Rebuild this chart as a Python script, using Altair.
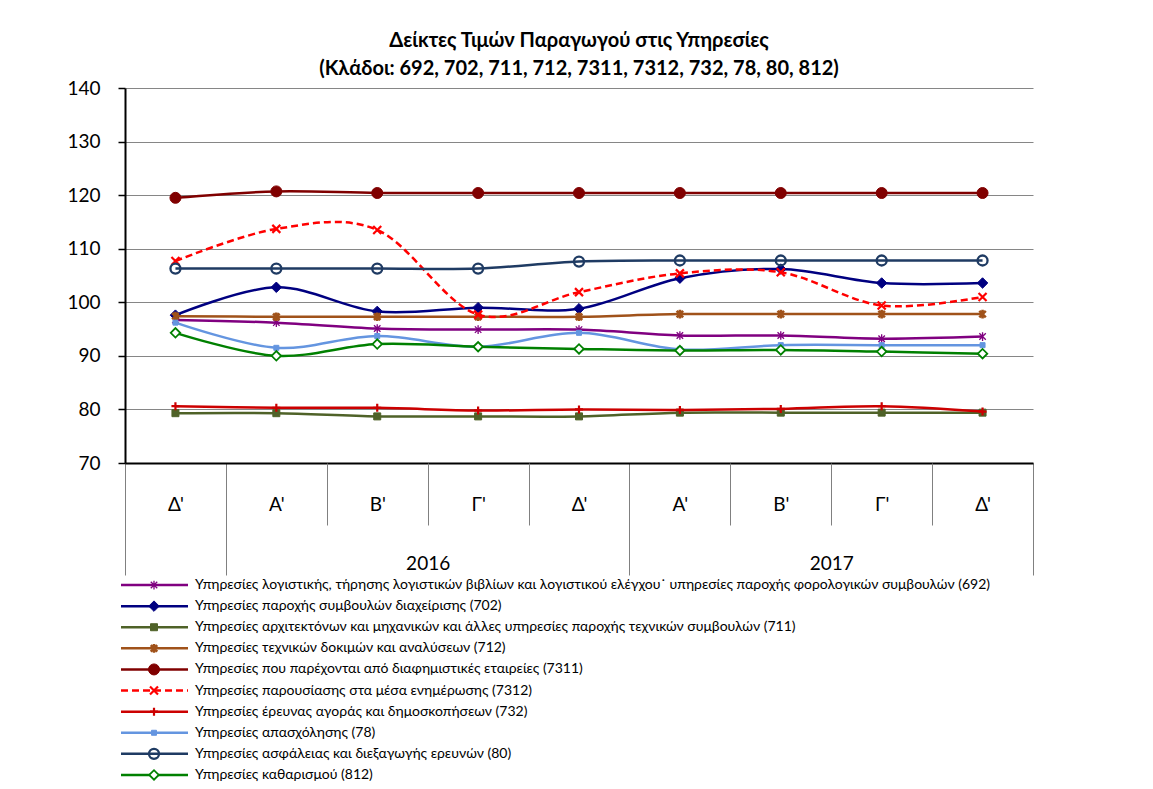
import json
import altair as alt
import pandas as pd

FONT = "Lato, Open Sans, sans-serif"

# ---------------- data ----------------
quarters = ["Δ'", "Α'", "Β'", "Γ'", "Δ'", "Α'", "Β'", "Γ'", "Δ'"]
quarter_years = ["2015", "2016", "2016", "2016", "2016", "2017", "2017", "2017", "2017"]
shown_years = ["2016", "2017"]

title_lines = [
    "Δείκτες Τιμών Παραγωγού στις Υπηρεσίες",
    "(Κλάδοι: 692, 702, 711, 712, 7311, 7312, 732, 78, 80, 812)",
]

y_ticks = [70, 80, 90, 100, 110, 120, 130, 140]

codes = ["692", "702", "711", "712", "7311", "7312", "732", "78", "80", "812"]
labels = [
    "Υπηρεσίες λογιστικής, τήρησης λογιστικών βιβλίων και λογιστικού ελέγχου˙ υπηρεσίες παροχής φορολογικών συμβουλών (692)",
    "Υπηρεσίες παροχής συμβουλών διαχείρισης (702)",
    "Υπηρεσίες αρχιτεκτόνων και μηχανικών και άλλες υπηρεσίες παροχής τεχνικών συμβουλών (711)",
    "Υπηρεσίες τεχνικών δοκιμών και αναλύσεων (712)",
    "Υπηρεσίες που παρέχονται από διαφημιστικές εταιρείες (7311)",
    "Υπηρεσίες παρουσίασης στα μέσα ενημέρωσης (7312)",
    "Υπηρεσίες έρευνας αγοράς και δημοσκοπήσεων (732)",
    "Υπηρεσίες απασχόλησης (78)",
    "Υπηρεσίες ασφάλειας και διεξαγωγής ερευνών (80)",
    "Υπηρεσίες καθαρισμού (812)",
]

v692 = [96.7, 96.2, 95.1, 94.9, 94.9, 93.8, 93.8, 93.2, 93.6]
v702 = [97.6, 102.8, 98.3, 99.0, 98.8, 104.5, 106.2, 103.6, 103.6]
v711 = [79.3, 79.3, 78.7, 78.7, 78.7, 79.4, 79.4, 79.4, 79.4]
v712 = [97.4, 97.3, 97.3, 97.3, 97.3, 97.8, 97.8, 97.8, 97.8]
v7311 = [119.5, 120.7, 120.4, 120.4, 120.4, 120.4, 120.4, 120.4, 120.4]
v7312 = [107.7, 113.7, 113.5, 97.7, 101.9, 105.4, 105.6, 99.4, 101.0]
v732 = [80.6, 80.3, 80.3, 79.8, 80.0, 79.9, 80.1, 80.6, 79.6]
v78 = [96.2, 91.5, 93.7, 91.7, 94.3, 91.2, 92.0, 92.0, 92.0]
v80 = [106.3, 106.3, 106.3, 106.3, 107.6, 107.8, 107.8, 107.8, 107.8]
v812 = [94.3, 90.0, 92.2, 91.7, 91.3, 91.0, 91.1, 90.8, 90.4]

series_values = [v692, v702, v711, v712, v7311, v7312, v732, v78, v80, v812]

# ---------------- styles ----------------
ASTER = "M-1,-1L1,1M-1,1L1,-1M0,-1.35L0,1.35"
XMARK = "M-1,-1L1,1M-1,1L1,-1"
PLUS = "M-1,0L1,0M0,-1L0,1"

colors = ["#800080", "#000080", "#4F6228", "#A0521A", "#800000",
          "#FF0000", "#CC0000", "#6495E0", "#1F3B63", "#008000"]
shapes = [ASTER, "diamond", "square", ASTER, "circle",
          XMARK, PLUS, "square", "circle", "diamond"]
msizes = [42, 110, 49, 42, 121, 64, 64, 25, 100, 90]
mfill = ["none", "same", "same", "none", "same",
         "none", "none", "same", "none", "#FFFFFF"]
mstroke_w = [1.3, 1, 1, 2.6, 1, 2.2, 2.2, 1, 2.3, 1.8]
dashes = [None, None, None, None, None, [7, 4], None, None, None, None]

# ---------------- tables ----------------
n = len(quarters)
rows = []
for code, vals in zip(codes, series_values):
    for i, v in enumerate(vals):
        rows.append({"code": code, "idx": i, "value": v})
df = pd.DataFrame(rows)

long_ticks = [-0.5] + [i - 0.5 for i in range(1, n) if quarter_years[i] != quarter_years[i - 1]] + [n - 0.5]
short_ticks = [i - 0.5 for i in range(1, n) if quarter_years[i] == quarter_years[i - 1]]
year_centers = []
for yr in shown_years:
    ids = [i for i, q in enumerate(quarter_years) if q == yr]
    year_centers.append(sum(ids) / len(ids))

x_scale = alt.Scale(domain=[-0.5, n - 0.5], nice=False, zero=False)
y_scale = alt.Scale(domain=[70, 140], nice=False, zero=False)

axis_long = alt.Axis(orient="bottom", values=long_ticks, labels=False, tickSize=112,
                     tickColor="#808080", tickWidth=1, domainColor="#000000",
                     domainWidth=2, grid=False, title=None)
axis_short = alt.Axis(orient="bottom", values=short_ticks, labels=False, tickSize=62,
                      tickColor="#808080", tickWidth=1, domain=False, grid=False, title=None)
axis_quarters = alt.Axis(orient="bottom", values=list(range(n)), ticks=False, domain=False,
                         labelExpr=json.dumps(quarters, ensure_ascii=False) + "[round(datum.value)]",
                         labelFontSize=19, labelFont=FONT, labelColor="#000000",
                         labelPadding=32, labelOverlap=False, labelFlush=False,
                         grid=False, title=None)
axis_years = alt.Axis(orient="bottom", values=year_centers, ticks=False, domain=False,
                      labelExpr=json.dumps(shown_years) + "[indexof(" + json.dumps(year_centers) + ", datum.value)]",
                      labelFontSize=19, labelFont=FONT, labelColor="#000000",
                      labelPadding=91, labelOverlap=False, labelFlush=False,
                      grid=False, title=None)
x_axes = [axis_long, axis_short, axis_quarters, axis_years]

y_axis = alt.Axis(values=y_ticks, grid=True, gridColor="#868686", gridWidth=1,
                  domainColor="#000000", domainWidth=2, tickColor="#000000",
                  tickSize=7, tickWidth=1.5, labelFontSize=19, labelFont=FONT,
                  labelColor="#000000", labelPadding=18, title=None)


def point_kwargs(k):
    kw = dict(shape=shapes[k], size=msizes[k], opacity=1, strokeWidth=mstroke_w[k])
    if mfill[k] == "same":
        kw.update(filled=True, fill=colors[k], stroke=colors[k])
    elif mfill[k] == "none":
        kw.update(filled=False, stroke=colors[k])
    else:
        kw.update(filled=True, fill=mfill[k], stroke=colors[k])
    return kw


def line_kwargs(k, width=2.5):
    kw = dict(color=colors[k], strokeWidth=width)
    if dashes[k] is not None:
        kw["strokeDash"] = dashes[k]
    return kw


layers = []
axis_i = 0
for k, code in enumerate(codes):
    base = alt.Chart(df).transform_filter(alt.datum.code == code)
    if axis_i < len(x_axes):
        xenc = alt.X("idx:Q", scale=x_scale, axis=x_axes[axis_i])
    else:
        xenc = alt.X("idx:Q", scale=x_scale, axis=None)
    axis_i += 1
    yenc = alt.Y("value:Q", scale=y_scale, axis=y_axis)
    line = base.mark_line(interpolate="cardinal", **line_kwargs(k)).encode(x=xenc, y=yenc)
    pts = base.mark_point(**point_kwargs(k)).encode(
        x=alt.X("idx:Q", scale=x_scale, axis=None),
        y=alt.Y("value:Q", scale=y_scale, axis=y_axis),
    )
    layers += [line, pts]

top = alt.layer(*layers).resolve_axis(x="independent").properties(
    width=908, height=375,
    title=alt.TitleParams(text=title_lines, fontSize=20, font=FONT, fontWeight="bold",
                          color="#000000", anchor="middle", frame="group",
                          lineHeight=28, offset=0),
)

# ---------------- legend panel ----------------
leg_df = pd.DataFrame({"row": list(range(len(codes))), "code": codes, "label": labels})
leg_y = alt.Scale(type="point", padding=0.38)
LINE_X0, LINE_X1, MARK_X, TEXT_X = -4, 63, 29, 70

leg_layers = []
for k, code in enumerate(codes):
    base = alt.Chart(leg_df).transform_filter(alt.datum.code == code)
    leg_layers.append(base.mark_rule(**line_kwargs(k)).encode(
        x=alt.value(LINE_X0), x2=alt.value(LINE_X1),
        y=alt.Y("row:O", scale=leg_y, axis=None)))
    leg_layers.append(base.mark_point(**point_kwargs(k)).encode(
        x=alt.value(MARK_X), y=alt.Y("row:O", scale=leg_y, axis=None)))
leg_layers.append(alt.Chart(leg_df).mark_text(
    align="left", baseline="middle", fontSize=14, font=FONT, color="#000000").encode(
    x=alt.value(TEXT_X), y=alt.Y("row:O", scale=leg_y, axis=None), text="label:N"))

legend_panel = alt.layer(*leg_layers).properties(width=900, height=206)

chart = alt.vconcat(top, legend_panel, spacing=0).properties(
    padding={"left": 58, "top": 22, "right": 5, "bottom": 0}
).configure(font=FONT).configure_view(stroke="transparent")

chart.save("out.html", embed_options={"renderer": "svg", "actions": False})
